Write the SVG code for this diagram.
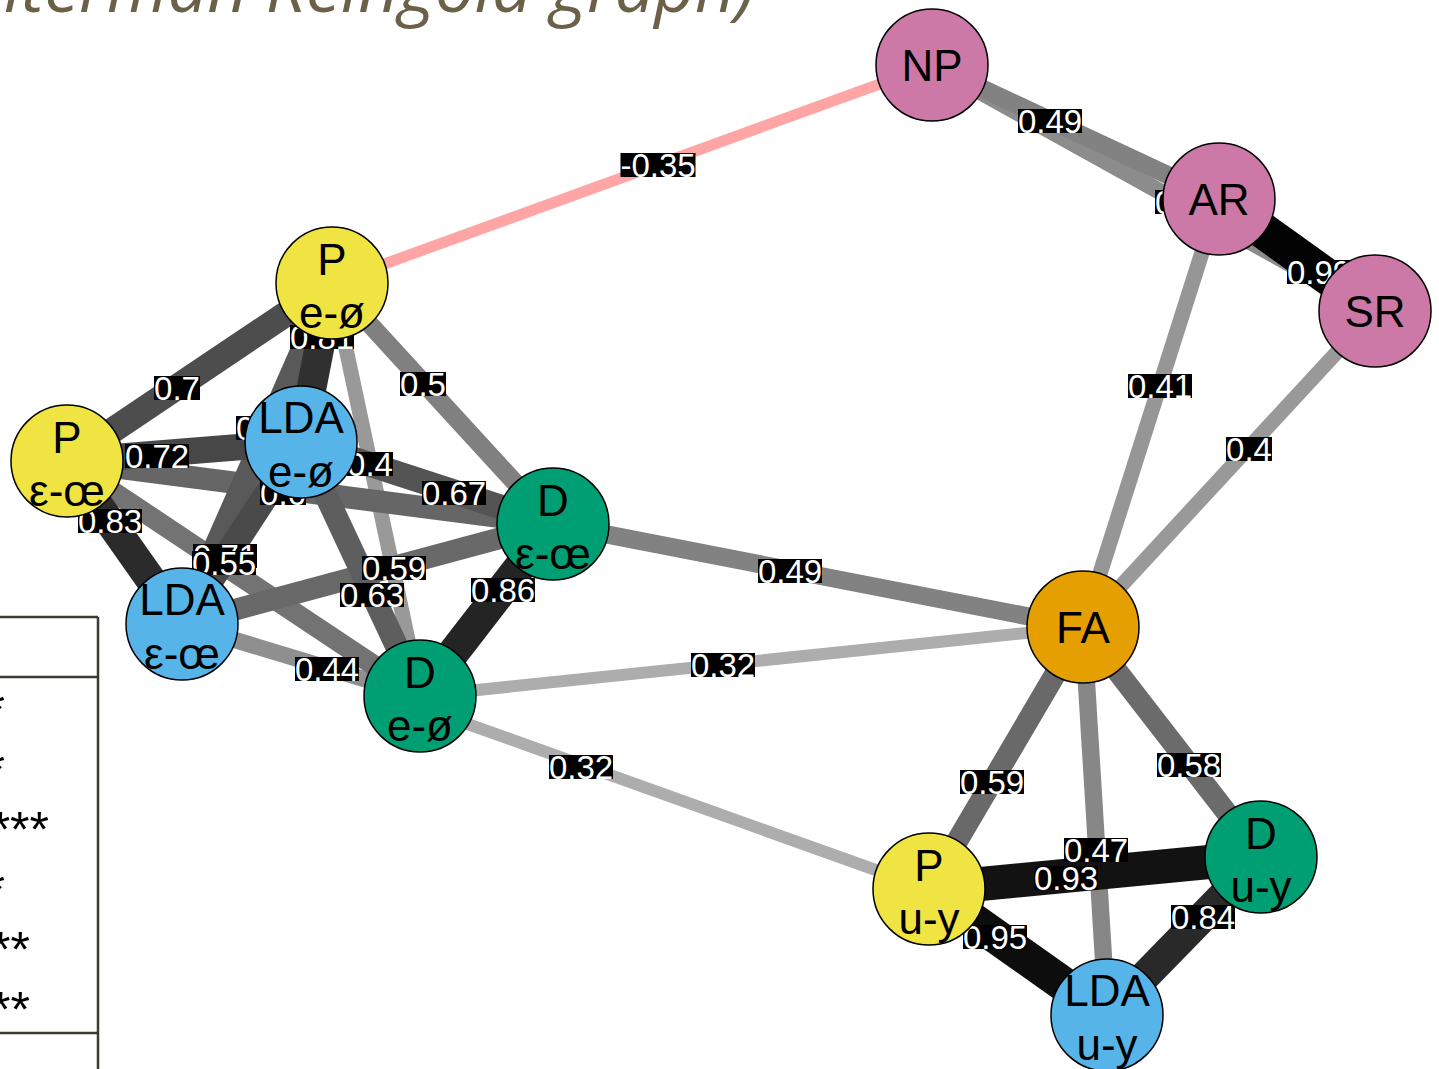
<svg xmlns="http://www.w3.org/2000/svg" width="1439" height="1069" viewBox="0 0 1439 1069">
  <style>
    .title { font-family: "Open Sans", "Liberation Sans", sans-serif; font-style: italic; font-size: 70px; fill: #6a6148; }
    .tbl { stroke: #3d3a32; stroke-width: 2.5; fill: none; }
    .star { font-family: "Liberation Sans", Arial, sans-serif; font-size: 50px; fill: #000; }
    .edges line { stroke-linecap: butt; }
    .lbl rect { fill: #000; }
    .lbl text { font-family: "Liberation Sans", Arial, sans-serif; font-size: 33px; fill: #fff; text-anchor: middle; }
    .node circle { stroke: #000; stroke-width: 1.5; }
    .node text { font-family: "Liberation Sans", Arial, sans-serif; font-size: 44px; fill: #000; text-anchor: middle; }
    .p circle { fill: #F0E442; }
    .lda circle { fill: #56B4E9; }
    .d circle { fill: #009E73; }
    .fa circle { fill: #E69F00; }
    .sys circle { fill: #CC79A7; }
  </style>

  <!-- slide title, running off the top-left corner -->
  <text class="title" x="755" y="12" text-anchor="end">Fruchterman Reingold graph)</text>

  <!-- table edge on the left side -->
  <g id="table">
    <line class="tbl" x1="0" y1="617" x2="98" y2="617"/>
    <line class="tbl" x1="0" y1="677" x2="98" y2="677"/>
    <line class="tbl" x1="0" y1="1033" x2="98" y2="1033"/>
    <line class="tbl" x1="98" y1="617" x2="98" y2="1069"/>
    <text class="star" x="5" y="727" text-anchor="end">*</text>
    <text class="star" x="5" y="787" text-anchor="end">*</text>
    <text class="star" x="49" y="847" text-anchor="end">***</text>
    <text class="star" x="5" y="907" text-anchor="end">*</text>
    <text class="star" x="30" y="967" text-anchor="end">**</text>
    <text class="star" x="30" y="1027" text-anchor="end">**</text>
  </g>

  <!-- connectors, weakest first so the strongest sit on top -->
  <g id="edges" class="edges">
    <line x1="1083" y1="627" x2="420" y2="696" stroke="#adadad" stroke-width="12"/>
    <line x1="420" y1="707" x2="929" y2="889" stroke="#adadad" stroke-width="12"/>
    <line x1="332" y1="283" x2="932" y2="65" stroke="#ffa5a5" stroke-width="11"/>
    <line x1="1375" y1="311" x2="1083" y2="627" stroke="#999999" stroke-width="14.9"/>
    <line x1="332" y1="283" x2="420" y2="696" stroke="#999999" stroke-width="14.9"/>
    <line x1="1219" y1="199" x2="1083" y2="627" stroke="#969696" stroke-width="15.3"/>
    <line x1="182" y1="624" x2="420" y2="696" stroke="#8f8f8f" stroke-width="16.3"/>
    <line x1="932" y1="65" x2="1375" y2="311" stroke="#8c8c8c" stroke-width="16.7"/>
    <line x1="1083" y1="627" x2="1107" y2="1015" stroke="#878787" stroke-width="17.4"/>
    <line x1="932" y1="65" x2="1219" y2="199" stroke="#828282" stroke-width="18.1"/>
    <line x1="1083" y1="627" x2="553" y2="524" stroke="#828282" stroke-width="18.1"/>
    <line x1="332" y1="283" x2="553" y2="524" stroke="#808080" stroke-width="18.5"/>
    <line x1="67" y1="461" x2="420" y2="696" stroke="#737373" stroke-width="20.3"/>
    <line x1="1083" y1="627" x2="1261" y2="857" stroke="#6b6b6b" stroke-width="21.4"/>
    <line x1="1083" y1="627" x2="929" y2="889" stroke="#696969" stroke-width="21.7"/>
    <line x1="182" y1="624" x2="553" y2="524" stroke="#696969" stroke-width="21.7"/>
    <line x1="67" y1="461" x2="553" y2="524" stroke="#666666" stroke-width="22.1"/>
    <line x1="301" y1="442" x2="420" y2="696" stroke="#5e5e5e" stroke-width="23.2"/>
    <line x1="332" y1="283" x2="182" y2="624" stroke="#595959" stroke-width="23.9"/>
    <line x1="301" y1="442" x2="553" y2="524" stroke="#545454" stroke-width="24.6"/>
    <line x1="332" y1="283" x2="67" y2="461" stroke="#4d4d4d" stroke-width="25.7"/>
    <line x1="301" y1="442" x2="182" y2="624" stroke="#4a4a4a" stroke-width="26.1"/>
    <line x1="67" y1="461" x2="301" y2="442" stroke="#474747" stroke-width="26.4"/>
    <line x1="332" y1="283" x2="301" y2="442" stroke="#303030" stroke-width="29.7"/>
    <line x1="67" y1="461" x2="182" y2="624" stroke="#2b2b2b" stroke-width="30.4"/>
    <line x1="1261" y1="857" x2="1107" y2="1015" stroke="#292929" stroke-width="30.7"/>
    <line x1="553" y1="524" x2="420" y2="696" stroke="#242424" stroke-width="31.5"/>
    <line x1="929" y1="889" x2="1261" y2="857" stroke="#121212" stroke-width="34"/>
    <line x1="929" y1="889" x2="1107" y2="1015" stroke="#0d0d0d" stroke-width="34.7"/>
    <line x1="1219" y1="199" x2="1375" y2="311" stroke="#030303" stroke-width="36"/>
  </g>

  <!-- edge weight labels -->
  <g id="edge-labels">
    <g class="lbl"><rect x="620.5" y="153" width="75" height="24"/><text x="658" y="177">-0.35</text></g>
    <g class="lbl"><rect x="1018" y="109" width="64" height="24"/><text x="1050" y="133">0.49</text></g>
    <g class="lbl"><rect x="1155" y="190" width="64" height="24"/><text x="1187" y="214">0.45</text></g>
    <g class="lbl"><rect x="1287" y="260" width="64" height="24"/><text x="1319" y="284">0.99</text></g>
    <g class="lbl"><rect x="1128" y="374" width="64" height="24"/><text x="1160" y="398">0.41</text></g>
    <g class="lbl"><rect x="1226" y="437" width="46" height="24"/><text x="1249" y="461">0.4</text></g>
    <g class="lbl"><rect x="758" y="559" width="64" height="24"/><text x="790" y="583">0.49</text></g>
    <g class="lbl"><rect x="691" y="653" width="64" height="24"/><text x="723" y="677">0.32</text></g>
    <g class="lbl"><rect x="549" y="755" width="64" height="24"/><text x="581" y="779">0.32</text></g>
    <g class="lbl"><rect x="960" y="770" width="64" height="24"/><text x="992" y="794">0.59</text></g>
    <g class="lbl"><rect x="1157" y="753" width="64" height="24"/><text x="1189" y="777">0.58</text></g>
    <g class="lbl"><rect x="1064" y="838" width="64" height="24"/><text x="1096" y="862">0.47</text></g>
    <g class="lbl"><rect x="1034" y="866" width="64" height="24"/><text x="1066" y="890">0.93</text></g>
    <g class="lbl"><rect x="963" y="925" width="64" height="24"/><text x="995" y="949">0.95</text></g>
    <g class="lbl"><rect x="1171" y="905" width="64" height="24"/><text x="1203" y="929">0.84</text></g>
    <g class="lbl"><rect x="154" y="376" width="46" height="24"/><text x="177" y="400">0.7</text></g>
    <g class="lbl"><rect x="290" y="325" width="64" height="24"/><text x="322" y="349">0.81</text></g>
    <g class="lbl"><rect x="400" y="372" width="46" height="24"/><text x="423" y="396">0.5</text></g>
    <g class="lbl"><rect x="347" y="452" width="46" height="24"/><text x="370" y="476">0.4</text></g>
    <g class="lbl"><rect x="236" y="416" width="64" height="24"/><text x="268" y="440">0.65</text></g>
    <g class="lbl"><rect x="125" y="444" width="64" height="24"/><text x="157" y="468">0.72</text></g>
    <g class="lbl"><rect x="260" y="481" width="46" height="24"/><text x="283" y="505">0.6</text></g>
    <g class="lbl"><rect x="78" y="509" width="64" height="24"/><text x="110" y="533">0.83</text></g>
    <g class="lbl"><rect x="193" y="544" width="64" height="24"/><text x="225" y="568">0.71</text></g>
    <g class="lbl"><rect x="192" y="551" width="64" height="24"/><text x="224" y="575">0.55</text></g>
    <g class="lbl"><rect x="422" y="481" width="64" height="24"/><text x="454" y="505">0.67</text></g>
    <g class="lbl"><rect x="340" y="583" width="64" height="24"/><text x="372" y="607">0.63</text></g>
    <g class="lbl"><rect x="362" y="556" width="64" height="24"/><text x="394" y="580">0.59</text></g>
    <g class="lbl"><rect x="295" y="657" width="64" height="24"/><text x="327" y="681">0.44</text></g>
    <g class="lbl"><rect x="471" y="578" width="64" height="24"/><text x="503" y="602">0.86</text></g>
  </g>

  <!-- nodes -->
  <g id="node-NP" class="node sys"><circle cx="932" cy="65" r="56"/><text x="932" y="81">NP</text></g>
  <g id="node-AR" class="node sys"><circle cx="1219" cy="199" r="56"/><text x="1219" y="215">AR</text></g>
  <g id="node-SR" class="node sys"><circle cx="1375" cy="311" r="56"/><text x="1375" y="327">SR</text></g>
  <g id="node-FA" class="node fa"><circle cx="1083" cy="627" r="56"/><text x="1083" y="643">FA</text></g>

  <g id="node-P-e" class="node p"><circle cx="332" cy="283" r="56"/><text x="332" y="275">P</text><text x="332" y="328">e-ø</text></g>
  <g id="node-P-eps" class="node p"><circle cx="67" cy="461" r="56"/><text x="67" y="453">P</text><text x="67" y="506">ε-œ</text></g>
  <g id="node-LDA-e" class="node lda"><circle cx="301" cy="442" r="56"/><text x="301" y="433">LDA</text><text x="301" y="487">e-ø</text></g>
  <g id="node-D-eps" class="node d"><circle cx="553" cy="524" r="56"/><text x="553" y="516">D</text><text x="553" y="569">ε-œ</text></g>
  <g id="node-LDA-eps" class="node lda"><circle cx="182" cy="624" r="56"/><text x="182" y="615">LDA</text><text x="182" y="669">ε-œ</text></g>
  <g id="node-D-e" class="node d"><circle cx="420" cy="696" r="56"/><text x="420" y="688">D</text><text x="420" y="741">e-ø</text></g>

  <g id="node-P-u" class="node p"><circle cx="929" cy="889" r="56"/><text x="929" y="881">P</text><text x="929" y="934">u-y</text></g>
  <g id="node-D-u" class="node d"><circle cx="1261" cy="857" r="56"/><text x="1261" y="849">D</text><text x="1261" y="902">u-y</text></g>
  <g id="node-LDA-u" class="node lda"><circle cx="1107" cy="1015" r="56"/><text x="1107" y="1006">LDA</text><text x="1107" y="1060">u-y</text></g>
</svg>
